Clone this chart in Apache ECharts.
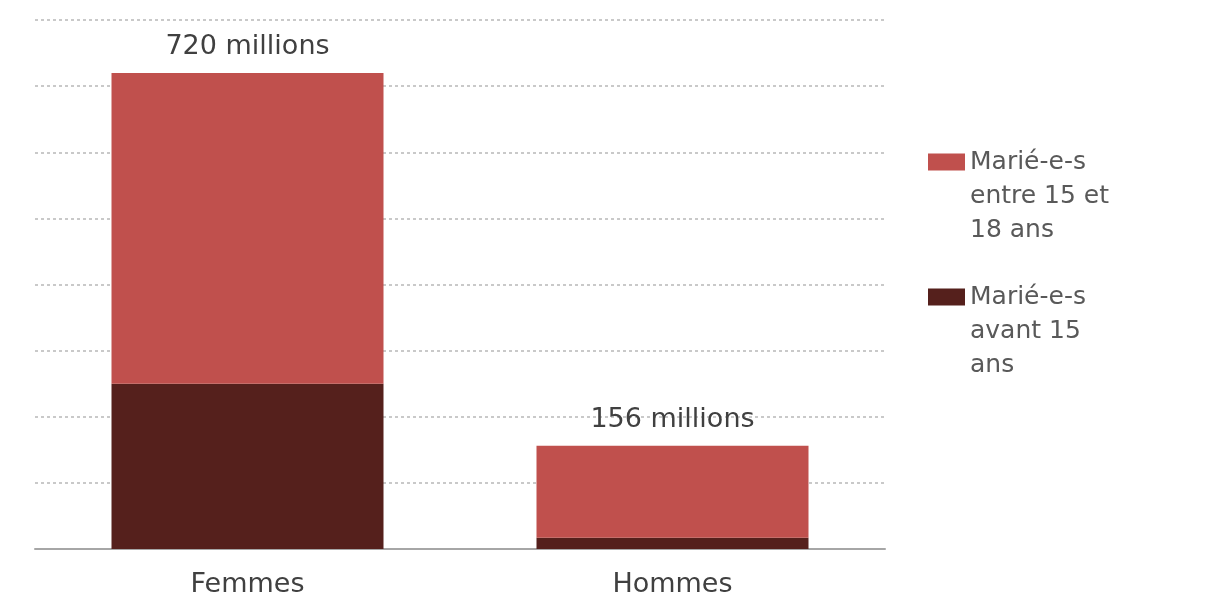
<!DOCTYPE html>
<html>
<head>
<meta charset="utf-8">
<script src="https://cdn.jsdelivr.net/npm/echarts@6/dist/echarts.min.js"></script>
<style>html,body{margin:0;padding:0;background:#fff}#c{width:1209px;height:600px}</style>
</head>
<body>
<div id="c"></div>
<script>
const categories = ['Femmes', 'Hommes'];
const avant15 = [250, 17];
const entre15et18 = [470, 139];
const totals = ['720 millions', '156 millions'];
const seriesNames = ['Marié-e-s avant 15 ans', 'Marié-e-s entre 15 et 18 ans'];
const legendText = {
  'Marié-e-s entre 15 et 18 ans': '\n\nMarié-e-s\nentre 15 et\n18 ans',
  'Marié-e-s avant 15 ans': '\n\nMarié-e-s\navant 15\nans'
};

const chart = echarts.init(document.getElementById('c'));
const font = 'DejaVu Sans';
const legendBase = {
  orient: 'vertical', left: 928, padding: 0, itemWidth: 37, itemHeight: 17, itemGap: 0,
  icon: 'rect',
  formatter: n => legendText[n],
  textStyle: { fontFamily: font, fontSize: 25, color: '#595959', lineHeight: 34 }
};
chart.setOption({
  animation: false,
  grid: { left: 35, right: 324, top: 20, bottom: 51 },
  legend: [
    Object.assign({}, legendBase, { top: 77, data: [seriesNames[1]] }),
    Object.assign({}, legendBase, { top: 212, data: [seriesNames[0]] })
  ],
  xAxis: {
    type: 'category', data: categories,
    axisLine: { lineStyle: { color: '#A6A6A6', width: 2 } },
    axisTick: { show: false },
    axisLabel: { fontFamily: font, fontSize: 27, color: '#404040', margin: 22 }
  },
  yAxis: {
    type: 'value', min: 0, max: 800, interval: 100,
    axisLabel: { show: false }, axisLine: { show: false }, axisTick: { show: false },
    splitLine: { lineStyle: { color: '#B8B8B8', type: [3, 3], width: 1.5 } }
  },
  series: [
    { name: seriesNames[0], type: 'bar', stack: 't', data: avant15, barWidth: '64%',
      itemStyle: { color: '#55201C' } },
    { name: seriesNames[1], type: 'bar', stack: 't', data: entre15et18, barWidth: '64%',
      itemStyle: { color: '#C0504D' },
      label: { show: true, position: 'top', distance: 12, fontFamily: font, fontSize: 27, color: '#404040',
        formatter: p => totals[p.dataIndex] } }
  ]
});
</script>
</body>
</html>
